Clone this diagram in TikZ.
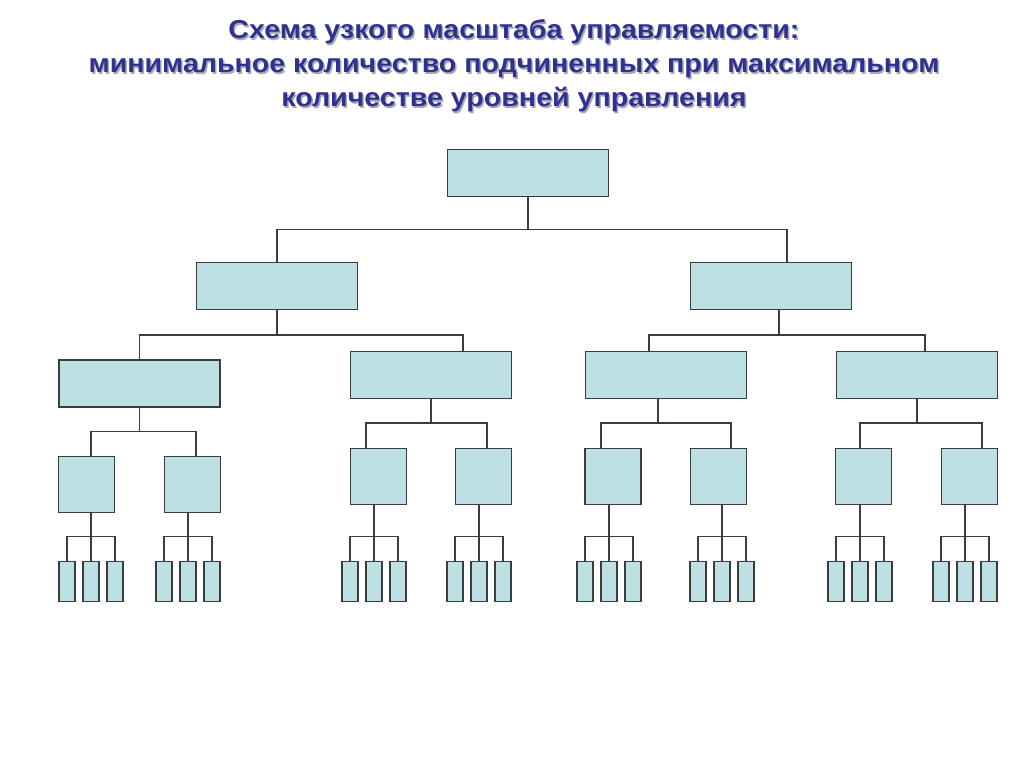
\documentclass[tikz,border=0pt]{standalone}
\usepackage{fontspec}
\setmainfont{Liberation Sans}
\newfontfamily\titlefont{Liberation Sans}[FakeStretch=1.1]
\definecolor{boxfill}{HTML}{BCE0E3}
\definecolor{boxline}{HTML}{3A3D40}
\definecolor{titleink}{HTML}{2F3192}
\definecolor{titleshade}{HTML}{A9A9B2}
\tikzset{
  unitbox/.style={draw=boxline, line width=1.1pt, fill=boxfill, inner sep=0pt},
  widebox/.style={unitbox, minimum width=120.5pt, minimum height=35pt},
  squarebox/.style={unitbox, minimum width=41.75pt, minimum height=41.75pt},
  leafbox/.style={unitbox, minimum width=11.75pt, minimum height=29.75pt},
  link/.style={draw=boxline, line width=1.1pt},
  heading/.style={font=\titlefont\fontsize{19.5}{25.5}\selectfont\bfseries, align=center}
}
\newcommand{\leafgroup}[3]{%
  \node[leafbox] (#1-1) at (#2-24,581.5) {};
  \node[leafbox] (#1-2) at (#2,581.5) {};
  \node[leafbox] (#1-3) at (#2+24,581.5) {};
  \draw[link] (#3.south -| #1-2.north) -- (#1-2.north);
  \draw[link] (#1-1.north) -- ++(0,-24.5) -| (#1-3.north);}

\begin{document}
\begin{tikzpicture}[x=0.75pt, y=-0.75pt]
  \fill[white] (0,0) rectangle (1024,767);
  \useasboundingbox (0,0) rectangle (1024,767);
  \node[heading, text=titleshade] (titleshadow) at (515.5,67.5)
    {Схема узкого масштаба управляемости:\\
     минимальное количество подчиненных при максимальном\\
     количестве уровней управления};
  \node[heading, text=titleink] (title) at (514,66)
    {Схема узкого масштаба управляемости:\\
     минимальное количество подчиненных при максимальном\\
     количестве уровней управления};
  \node[widebox] (top) at (528,173) {};
  \node[widebox] (left) at (277,286) {};
  \node[widebox] (right) at (771,286) {};
  \node[widebox] (dept1) at (139.5,383.5) {};
  \node[widebox] (dept2) at (431,375) {};
  \node[widebox] (dept3) at (666,375) {};
  \node[widebox] (dept4) at (917,375) {};
  \node[squarebox] (unit1) at (86.5,484.5) {};
  \node[squarebox] (unit2) at (192.5,484.5) {};
  \node[squarebox] (unit3) at (378.5,476.5) {};
  \node[squarebox] (unit4) at (483.5,476.5) {};
  \node[squarebox] (unit5) at (613,476.5) {};
  \node[squarebox] (unit6) at (718.5,476.5) {};
  \node[squarebox] (unit7) at (863.5,476.5) {};
  \node[squarebox] (unit8) at (969.5,476.5) {};
  \draw[link] (top.south) -- ++(0,32.5) -| (left.north);
  \draw[link] (top.south) -- ++(0,32.5) -| ([xshift=12pt]right.north);
  \draw[link] (left.south) -- ++(0,25) -| (dept1.north);
  \draw[link] (left.south) -- ++(0,25) -| ([xshift=24pt]dept2.north);
  \draw[link] ([xshift=6pt]right.south) -- ++(0,25) -| ([xshift=-12.75pt]dept3.north);
  \draw[link] ([xshift=6pt]right.south) -- ++(0,25) -| ([xshift=6pt]dept4.north);
  \draw[link] (dept1.south) -- ++(0,24) -| ([xshift=3.4pt]unit1.north);
  \draw[link] (dept1.south) -- ++(0,24) -| ([xshift=2.6pt]unit2.north);
  \draw[link] (dept2.south) -- ++(0,24) -| ([xshift=-9.4pt]unit3.north);
  \draw[link] (dept2.south) -- ++(0,24) -| ([xshift=2.6pt]unit4.north);
  \draw[link] ([xshift=-6pt]dept3.south) -- ++(0,24) -| ([xshift=-9pt]unit5.north);
  \draw[link] ([xshift=-6pt]dept3.south) -- ++(0,24) -| ([xshift=9.4pt]unit6.north);
  \draw[link] (dept4.south) -- ++(0,24) -| ([xshift=-2.6pt]unit7.north);
  \draw[link] (dept4.south) -- ++(0,24) -| ([xshift=9.4pt]unit8.north);
  \foreach \g/\x in {1/91, 2/188, 3/374, 4/479, 5/609, 6/722, 7/860, 8/965}
    \leafgroup{w\g}{\x}{unit\g};
\end{tikzpicture}
\end{document}
